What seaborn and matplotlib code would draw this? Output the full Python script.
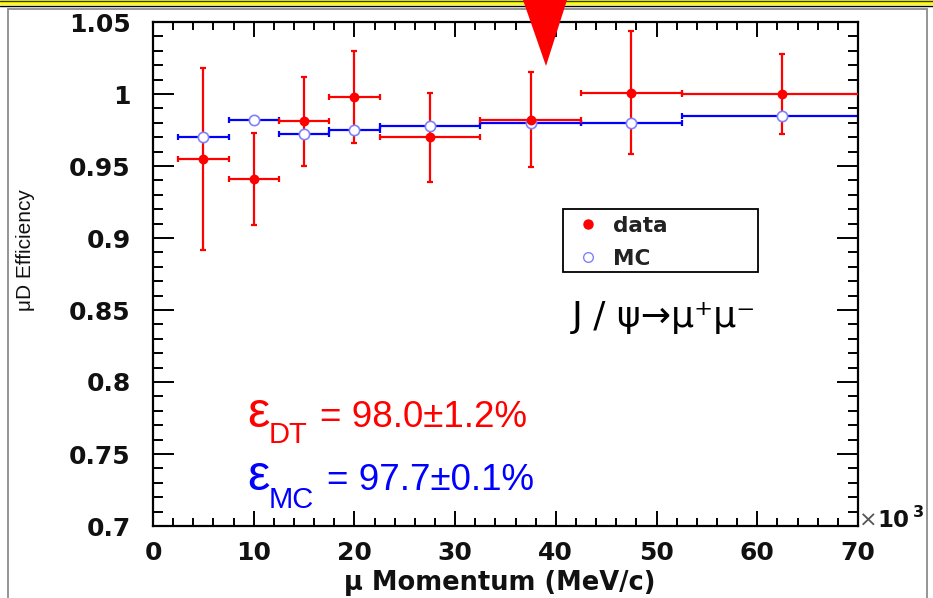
import matplotlib
matplotlib.use("Agg")
import matplotlib.pyplot as plt
from matplotlib.patches import Rectangle, Polygon
from matplotlib.lines import Line2D
from matplotlib.ticker import MultipleLocator, FixedLocator, FixedFormatter
import seaborn as sns
import pandas as pd

# ---------------- data ----------------
momentum = [5, 10, 15, 20, 27.5, 37.5, 47.5, 62.5]          # bin centres (x10^3 MeV/c)
bin_low = [2.5, 7.5, 12.5, 17.5, 22.5, 32.5, 42.5, 52.5]
bin_high = [7.5, 12.5, 17.5, 22.5, 32.5, 42.5, 52.5, 72.5]
data_eff = [0.955, 0.941, 0.981, 0.998, 0.970, 0.982, 1.001, 1.000]
data_err = [0.063, 0.032, 0.031, 0.032, 0.031, 0.033, 0.043, 0.028]
mc_eff = [0.970, 0.982, 0.972, 0.975, 0.978, 0.980, 0.980, 0.985]
x_ticks = [0, 10, 20, 30, 40, 50, 60, 70]
x_tick_labels = ["0", "10", "20", "30", "40", "50", "60", "70"]
y_ticks = [0.7, 0.75, 0.8, 0.85, 0.9, 0.95, 1.0, 1.05]
y_tick_labels = ["0.7", "0.75", "0.8", "0.85", "0.9", "0.95", "1", "1.05"]

df = pd.DataFrame({
    "momentum": momentum, "lo": bin_low, "hi": bin_high,
    "data": data_eff, "derr": data_err, "mc": mc_eff,
})
df["xerr_lo"] = df["momentum"] - df["lo"]
df["xerr_hi"] = df["hi"] - df["momentum"]

RED = "#ff0000"
BLUE = "#0000ff"
INK = "#111111"
W, H = 933, 598

sns.set_theme(style="ticks")
plt.rcParams["font.family"] = ["DejaVu Sans"]

fig = plt.figure(figsize=(W / 100, H / 100), dpi=100)
fig.patch.set_facecolor("white")


def fx(x):
    return x / W


def fy(y):
    return 1 - y / H


ax = fig.add_axes([fx(153), fy(526), fx(858) - fx(153), fy(22) - fy(526)])
ax.set_facecolor("white")

# error bars
ax.errorbar(df["momentum"], df["mc"], xerr=[df["xerr_lo"], df["xerr_hi"]],
            fmt="none", ecolor=BLUE, elinewidth=1.6, capsize=2.5, capthick=1.6, zorder=2)
ax.errorbar(df["momentum"], df["data"], xerr=[df["xerr_lo"], df["xerr_hi"]],
            yerr=df["derr"], fmt="none", ecolor=RED, elinewidth=1.6,
            capsize=2.5, capthick=1.6, zorder=3)

# markers
sns.scatterplot(data=df, x="momentum", y="mc", ax=ax, marker="o", s=55,
                facecolor="white", edgecolor="#8080ff", linewidth=1.2, zorder=4, legend=False)
sns.scatterplot(data=df, x="momentum", y="data", ax=ax, marker="o", s=50,
                color=RED, edgecolor=RED, linewidth=0, zorder=5, legend=False)

ax.set_xlim(0, 70)
ax.set_ylim(0.7, 1.05)
ax.xaxis.set_major_locator(FixedLocator(x_ticks))
ax.xaxis.set_major_formatter(FixedFormatter(x_tick_labels))
ax.yaxis.set_major_locator(FixedLocator(y_ticks))
ax.yaxis.set_major_formatter(FixedFormatter(y_tick_labels))
ax.xaxis.set_minor_locator(MultipleLocator(2))
ax.yaxis.set_minor_locator(MultipleLocator(0.01))

for s in ax.spines.values():
    s.set_visible(True)
    s.set_linewidth(1.6)
    s.set_color("black")

ax.tick_params(axis="both", which="both", direction="in", top=True, right=True,
               color="black", width=1.4)
ax.tick_params(axis="x", which="major", length=11, pad=11)
ax.tick_params(axis="x", which="minor", length=5.5)
ax.tick_params(axis="y", which="major", length=15, pad=16)
ax.tick_params(axis="y", which="minor", length=7.5)
for lab in ax.get_xticklabels() + ax.get_yticklabels():
    lab.set_fontsize(18)
    lab.set_fontweight("bold")
    lab.set_color(INK)

ax.set_xlabel("μ Momentum (MeV/c)", fontsize=18.5, fontweight="bold", color=INK)
ax.xaxis.label.set_va("baseline")
ax.xaxis.set_label_coords((500 - 153) / 705, (526 - 590) / 504)
ax.set_ylabel("μD Efficiency", fontsize=15, color=INK,
              family=["Liberation Sans Narrow", "Liberation Sans", "DejaVu Sans"])
ax.yaxis.set_label_coords((35 - 153) / 705, (526 - 250) / 504)

# legend (frame drawn separately to match the wide box)
handles = [
    Line2D([], [], linestyle="none", marker="o", markersize=6.5,
           markerfacecolor=RED, markeredgecolor=RED, label="data"),
    Line2D([], [], linestyle="none", marker="o", markersize=7,
           markerfacecolor="white", markeredgecolor="#8080ff", label="MC"),
]
leg = ax.legend(handles=handles, loc="upper left",
                bbox_to_anchor=(fx(577), fy(216)), bbox_transform=fig.transFigure,
                borderaxespad=0, frameon=False,
                prop={"weight": "bold", "size": 15.5, "family": "DejaVu Sans"},
                handletextpad=0.65, borderpad=0, labelspacing=0.6,
                handlelength=1.0)
for t in leg.get_texts():
    t.set_color("#222222")
fig.add_artist(Rectangle((fx(563), fy(272)), fx(758) - fx(563), fy(209) - fy(272),
                         transform=fig.transFigure, facecolor="none",
                         edgecolor="black", linewidth=1.3, zorder=6))

# annotations
fig.text(fx(859), fy(527), "×", fontsize=16, color="#555555", ha="left", va="baseline")
fig.text(fx(877), fy(527), "10", fontsize=16.5, fontweight="bold", color=INK,
         ha="left", va="baseline")
fig.text(fx(913), fy(517), "3", fontsize=11.5, fontweight="bold", color=INK,
         ha="left", va="baseline")
fig.text(fx(572), fy(327), "J / ψ→μ⁺μ⁻", fontsize=26, color="black",
         family=["DejaVu Sans"], ha="left", va="baseline")

fig.text(fx(247), fy(427), "ε", fontsize=36, color=RED, ha="left", va="baseline",
         family=["Liberation Sans"])
fig.text(fx(269), fy(443), "DT", fontsize=21, color=RED, ha="left", va="baseline",
         family=["Liberation Sans"])
fig.text(fx(320), fy(427), "= 98.0±1.2%", fontsize=26.5, color=RED, ha="left",
         va="baseline", family=["Liberation Sans"])
fig.text(fx(247), fy(490), "ε", fontsize=36, color=BLUE, ha="left", va="baseline",
         family=["Liberation Sans"])
fig.text(fx(269), fy(508), "MC", fontsize=21, color=BLUE, ha="left", va="baseline",
         family=["Liberation Sans"])
fig.text(fx(327), fy(490), "= 97.7±0.1%", fontsize=26.5, color=BLUE, ha="left",
         va="baseline", family=["Liberation Sans"])

# slide decorations
fig.add_artist(Rectangle((0, fy(5)), 1, fy(0) - fy(5), transform=fig.transFigure,
                         facecolor="#ffff00", edgecolor="none", zorder=0))
fig.add_artist(Line2D([0, 1], [fy(5.5), fy(5.5)], transform=fig.transFigure,
                      color="black", linewidth=1.0))
fig.add_artist(Line2D([0, 1], [fy(0.5), fy(0.5)], transform=fig.transFigure,
                      color="#333333", linewidth=1.0))
fig.add_artist(Rectangle((fx(8), fy(610)), fx(927) - fx(8), fy(9) - fy(610),
                         transform=fig.transFigure, facecolor="none",
                         edgecolor="#8c8c8c", linewidth=1.3))
fig.add_artist(Polygon([(fx(523), fy(0)), (fx(567), fy(0)), (fx(546), fy(66))],
                       closed=True, transform=fig.transFigure,
                       facecolor=RED, edgecolor="none", zorder=10))

fig.savefig("out.png", dpi=100, facecolor="white")
